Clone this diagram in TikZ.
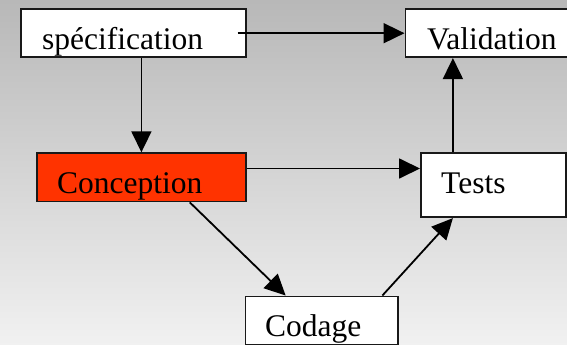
\documentclass[tikz,border=0pt]{standalone}
\usepackage{fontspec}
\setmainfont{Liberation Serif}
\usetikzlibrary{arrows.meta}
\definecolor{bgtop}{RGB}{184,184,184}
\definecolor{bgbot}{RGB}{241,241,241}
\definecolor{concred}{RGB}{255,51,0}
\tikzset{
  box/.style={draw=black!90, line width=1.8pt, fill=white, inner sep=0pt, anchor=north west},
  lbl/.style={inner sep=0pt, anchor=base west, font=\fontsize{31.5}{36}\selectfont},
  arr/.style={line width=1.8pt, -{Triangle[length=21pt,width=20pt]}},
}
\begin{document}
\begin{tikzpicture}[x=1pt,y=-1pt]
  % page and background shading
  \useasboundingbox (0,0) rectangle (567,345);
  \shade[top color=bgtop, bottom color=bgbot] (0,0) rectangle (567,345);

  % boxes
  \node[box, minimum width=224.8pt, minimum height=48pt] (spec) at (20,8.3) {};
  \node[box, minimum width=163.5pt, minimum height=48pt] (val) at (404.5,8.3) {};
  \node[box, fill=concred, minimum width=209pt, minimum height=48.2pt] (conc) at (36,152.3) {};
  \node[box, minimum width=145pt, minimum height=64pt] (tests) at (420,152.3) {};
  \node[box, minimum width=152.5pt, minimum height=48.8pt] (cod) at (244.5,295.5) {};

  % labels
  \node[lbl] (specT) at (42,50) {spécification};
  \node[lbl] (valT) at (427,50) {Validation};
  \node[lbl] (concT) at (57,193.3) {Conception};
  \node[lbl] (testsT) at (441,193.3) {Tests};
  \node[lbl] (codT) at (265,336.5) {Codage};

  % connector end points
  \coordinate (s1) at ([xshift=-9pt]spec.east);
  \coordinate (c1) at ([yshift=8.8pt]conc.east);
  \coordinate (t1) at ([xshift=-40.5pt]tests.north);
  \coordinate (c2) at ([xshift=48.3pt]conc.south);
  \coordinate (d1) at ([xshift=-36pt]cod.north);
  \coordinate (d2) at ([xshift=60.75pt]cod.north);
  \coordinate (t2) at ([xshift=-40.5pt]tests.south);

  % connectors
  \draw[arr] (s1) -- (val.west);
  \draw[arr] (conc.north |- spec.south) -- (conc.north);
  \draw[arr] (c1) -- (c1 -| tests.west);
  \draw[arr] (t1) -- (t1 |- val.south);
  \draw[arr] (c2) -- (d1);
  \draw[arr] (d2) -- (t2);
\end{tikzpicture}
\end{document}
